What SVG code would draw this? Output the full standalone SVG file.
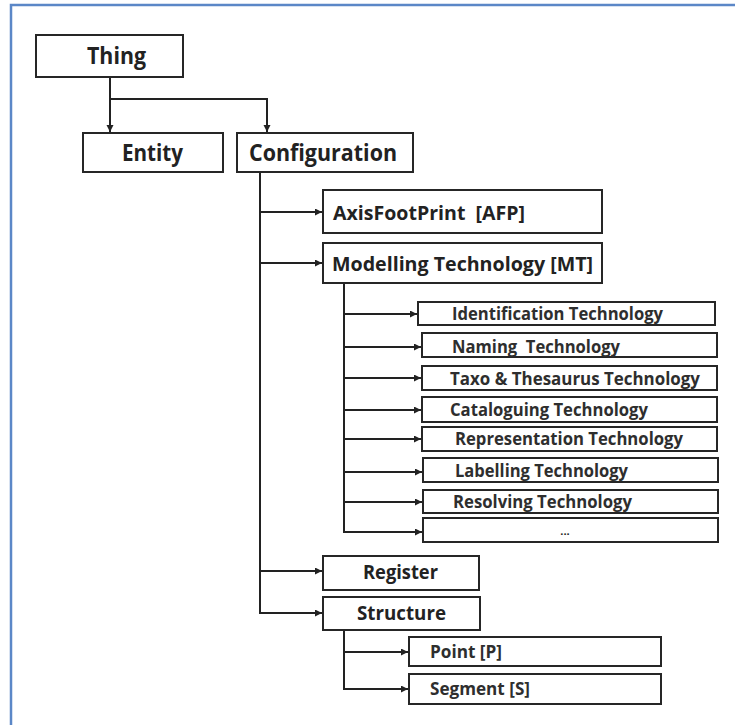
<svg xmlns="http://www.w3.org/2000/svg" width="735" height="725" viewBox="0 0 735 725">
  <defs>
    <marker id="arrow" markerUnits="userSpaceOnUse" markerWidth="8" markerHeight="8" refX="7" refY="3.5" orient="auto">
      <path d="M0,0 L7,3.5 L0,7 z" fill="#222"/>
    </marker>
    <style>
      .box { fill: #fff; stroke: #262626; stroke-width: 2; }
      .lbl { font-family: "Open Sans", "Noto Sans", "Liberation Sans", sans-serif; font-weight: 700; fill: #222; }
      .big { font-size: 23px; }
      .mid { font-size: 20px; }
      .sml { font-size: 17.5px; fill: #2e2e2e; }
      .wire { fill: none; stroke: #222; stroke-width: 2; }
      .arr { marker-end: url(#arrow); }
    </style>
  </defs>

  <rect width="735" height="725" fill="#fff"/>
  <!-- frame: top and left edges only -->
  <path d="M735,5 H11 V725" fill="none" stroke="#5b87c7" stroke-width="2.5"/>

  <g id="connectors">
    <!-- Thing -> Entity, Configuration -->
    <path class="wire arr" d="M110,77 V132"/>
    <path class="wire arr" d="M110,99 H267 V132"/>
    <!-- Configuration children -->
    <path class="wire arr" d="M260,172 V613 H322"/>
    <path class="wire arr" d="M260,212 H322"/>
    <path class="wire arr" d="M260,263 H322"/>
    <path class="wire arr" d="M260,571 H322"/>
    <!-- Modelling Technology children -->
    <path class="wire arr" d="M344,283 V532 H422"/>
    <path class="wire arr" d="M344,314 H417"/>
    <path class="wire arr" d="M344,347 H421"/>
    <path class="wire arr" d="M344,378 H421"/>
    <path class="wire arr" d="M344,410 H421"/>
    <path class="wire arr" d="M344,439 H421"/>
    <path class="wire arr" d="M344,472 H422"/>
    <path class="wire arr" d="M344,502 H422"/>
    <!-- Structure children -->
    <path class="wire arr" d="M344,630 V689 H408"/>
    <path class="wire arr" d="M344,652 H408"/>
  </g>

  <g id="thing">
    <rect class="box" x="36" y="35" width="147" height="42"/>
    <text class="lbl big" x="87" y="64" textLength="59" lengthAdjust="spacingAndGlyphs">Thing</text>
  </g>
  <g id="entity">
    <rect class="box" x="83" y="133" width="140" height="39"/>
    <text class="lbl big" x="122" y="161" textLength="61" lengthAdjust="spacingAndGlyphs">Entity</text>
  </g>
  <g id="configuration">
    <rect class="box" x="237" y="133" width="176" height="39"/>
    <text class="lbl big" x="249" y="161" textLength="148" lengthAdjust="spacingAndGlyphs">Configuration</text>
  </g>
  <g id="afp">
    <rect class="box" x="323" y="190" width="279" height="43"/>
    <text class="lbl mid" x="333" y="220" textLength="192" lengthAdjust="spacingAndGlyphs" xml:space="preserve">AxisFootPrint  [AFP]</text>
  </g>
  <g id="mt">
    <rect class="box" x="323" y="243" width="279" height="40"/>
    <text class="lbl mid" x="332" y="271" textLength="261" lengthAdjust="spacingAndGlyphs">Modelling Technology [MT]</text>
  </g>
  <g id="identification">
    <rect class="box" x="418" y="302" width="297" height="23"/>
    <text class="lbl sml" x="452" y="320" textLength="211" lengthAdjust="spacingAndGlyphs">Identification Technology</text>
  </g>
  <g id="naming">
    <rect class="box" x="422" y="333" width="295" height="24"/>
    <text class="lbl sml" x="452" y="353" textLength="168" lengthAdjust="spacingAndGlyphs" xml:space="preserve">Naming  Technology</text>
  </g>
  <g id="taxo">
    <rect class="box" x="422" y="366" width="295" height="24"/>
    <text class="lbl sml" x="450" y="385" textLength="250" lengthAdjust="spacingAndGlyphs">Taxo &amp; Thesaurus Technology</text>
  </g>
  <g id="cataloguing">
    <rect class="box" x="422" y="397" width="295" height="25"/>
    <text class="lbl sml" x="450" y="416" textLength="198" lengthAdjust="spacingAndGlyphs">Cataloguing Technology</text>
  </g>
  <g id="representation">
    <rect class="box" x="422" y="427" width="295" height="24"/>
    <text class="lbl sml" x="455" y="445" textLength="228" lengthAdjust="spacingAndGlyphs">Representation Technology</text>
  </g>
  <g id="labelling">
    <rect class="box" x="423" y="458" width="295" height="24"/>
    <text class="lbl sml" x="455" y="477" textLength="173" lengthAdjust="spacingAndGlyphs">Labelling Technology</text>
  </g>
  <g id="resolving">
    <rect class="box" x="423" y="490" width="295" height="23"/>
    <text class="lbl sml" x="453" y="508" textLength="179" lengthAdjust="spacingAndGlyphs">Resolving Technology</text>
  </g>
  <g id="more">
    <rect class="box" x="423" y="518" width="295" height="24"/>
    <text class="lbl" x="565" y="535" font-size="11" text-anchor="middle">...</text>
  </g>
  <g id="register">
    <rect class="box" x="323" y="556" width="156" height="34"/>
    <text class="lbl mid" x="363" y="579" textLength="75" lengthAdjust="spacingAndGlyphs">Register</text>
  </g>
  <g id="structure">
    <rect class="box" x="323" y="597" width="157" height="33"/>
    <text class="lbl mid" x="357" y="620" textLength="89" lengthAdjust="spacingAndGlyphs">Structure</text>
  </g>
  <g id="point">
    <rect class="box" x="409" y="637" width="252" height="29"/>
    <text class="lbl sml" x="430" y="658" textLength="72" lengthAdjust="spacingAndGlyphs">Point [P]</text>
  </g>
  <g id="segment">
    <rect class="box" x="409" y="674" width="252" height="30"/>
    <text class="lbl sml" x="430" y="695" textLength="100" lengthAdjust="spacingAndGlyphs">Segment [S]</text>
  </g>
</svg>
